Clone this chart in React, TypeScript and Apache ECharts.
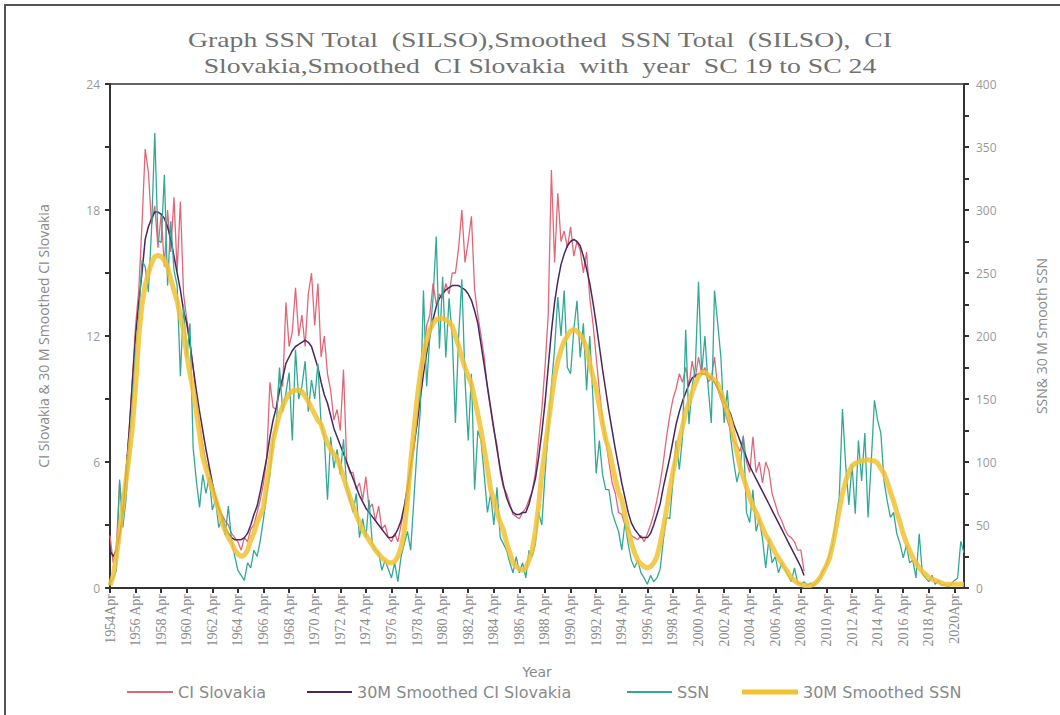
import React, { useEffect, useRef } from "react";
import * as echarts from "echarts";

// Quarterly samples starting April 1954: each row is one year, [Apr, Jul, Oct, Jan of next year].
const firstYear = 1954;
const quarterNames = ["Apr", "Jul", "Oct", "Jan"];

// Monthly total sunspot number (SILSO), right axis
const ssnTotal: number[] = [
  3, 8, 14, 86, // 1954
  48, 70, 110, 150,
  190, 215, 260, 255,
  235, 285, 361, 276,
  274, 328, 240, 291,
  252, 240, 168, 225,
  183, 210, 111, 85, // 1960
  64, 90, 75, 88,
  62, 70, 48, 55,
  42, 65, 38, 25,
  14, 10, 6, 20,
  16, 30, 25, 38,
  55, 75, 90, 120,
  130, 175, 140, 155,
  171, 117, 189, 150,
  160, 180, 140, 165,
  150, 178, 130, 120, // 1970
  70, 120, 95, 110,
  90, 118, 80, 70,
  60, 75, 40, 55,
  40, 70, 35, 30,
  28, 14, 22, 15,
  8, 20, 5, 25,
  35, 45, 30, 70,
  110, 140, 236, 160,
  200, 230, 279, 190,
  247, 183, 230, 200, // 1980
  131, 200, 245, 165,
  117, 170, 78, 125,
  117, 90, 60, 75,
  50, 80, 40, 35,
  30, 20, 12, 25,
  12, 20, 8, 30,
  25, 35, 60, 50,
  90, 125, 160, 190,
  231, 200, 236, 175,
  170, 205, 228, 183, // 1990
  210, 157, 200, 150,
  91, 117, 90, 78,
  78, 60, 52, 45,
  30, 52, 35, 22,
  16, 22, 12, 8,
  3, 10, 5, 8,
  15, 38, 56, 55,
  85, 117, 94, 120,
  205, 130, 160, 175,
  243, 171, 200, 160, // 2000
  131, 236, 210, 183,
  131, 157, 120, 100,
  84, 95, 121, 60,
  52, 78, 45, 55,
  39, 16, 39, 20,
  25, 12, 20, 15,
  10, 5, 16, 4,
  3, 5, 2, 4,
  2, 5, 8, 14,
  18, 27, 35, 56, // 2010
  72, 142, 98, 66,
  98, 59, 117, 85,
  123, 56, 100, 149,
  133, 123, 85, 69,
  56, 60, 43, 35,
  24, 34, 20, 22,
  8, 43, 11, 8,
  5, 10, 3, 6,
  2, 3, 1, 3,
  6, 8, 37, 28, // 2020
];

// 30-month smoothed sunspot number, right axis
const smoothedSsn: number[] = [
  2, 10, 25, 45, // 1954
  65, 85, 105, 128,
  160, 200, 225, 240,
  250, 258, 263, 264,
  263, 260, 255, 245,
  236, 228, 215, 205,
  185, 170, 157, 140, // 1960
  122, 104, 95, 86,
  78, 70, 62, 52,
  46, 40, 36, 30,
  27, 25, 26, 30,
  38, 44, 52, 58,
  64, 82, 100, 117,
  128, 138, 144, 150,
  154, 156, 157, 157,
  156, 152, 148, 143,
  138, 133, 130, 122, // 1970
  115, 110, 106, 103,
  96, 88, 80, 72,
  65, 58, 52, 46,
  42, 38, 34, 30,
  27, 24, 22, 20,
  20, 21, 25, 32,
  45, 70, 100, 125,
  150, 170, 185, 197,
  205, 210, 213, 214,
  214, 213, 211, 208, // 1980
  200, 192, 183, 175,
  168, 162, 150, 138,
  125, 110, 95, 78,
  70, 60, 52, 46,
  36, 28, 20, 17,
  15, 14, 16, 22,
  30, 45, 65, 91,
  110, 130, 150, 168,
  180, 189, 196, 200,
  204, 205, 204, 201, // 1990
  197, 190, 178, 168,
  158, 144, 130, 118,
  110, 98, 86, 76,
  70, 58, 46, 36,
  28, 22, 19, 17,
  16, 17, 20, 25,
  35, 48, 62, 78,
  92, 104, 118, 128,
  140, 147, 155, 162,
  168, 171, 171, 169, // 2000
  167, 165, 162, 155,
  148, 140, 132, 120,
  108, 96, 88, 80,
  72, 65, 60, 54,
  48, 42, 38, 33,
  28, 24, 20, 16,
  12, 8, 6, 4,
  3, 2, 2, 2,
  3, 5, 8, 13,
  18, 24, 35, 48, // 2010
  62, 75, 85, 92,
  97, 99, 100, 101,
  101, 102, 101, 101,
  99, 95, 91, 84,
  76, 69, 60, 52,
  43, 36, 30, 24,
  20, 16, 13, 11,
  8, 7, 6, 5,
  4, 3, 3, 3,
  3, 3, 3, 3, // 2020
];

// Coronal index, Slovakia, left axis
const ciSlovakia: (number | null)[] = [
  2.5, 1.2, 2.0, 5.0, // 1954
  3.5, 5.5, 7.5, 10.0,
  12.5, 14.2, 17.3, 20.9,
  19.8, 17.3, 18.2, 16.2,
  17.8, 15.3, 18.0, 16.0,
  18.6, 15.1, 18.4, 14.0,
  12.8, 11.8, 10.5, 9.0, // 1960
  7.8, 6.8, 6.0, 5.6,
  4.8, 4.4, 3.8, 3.5,
  3.2, 3.0, 2.6, 2.4,
  2.2, 1.8, 2.4, 2.2,
  2.8, 3.0, 3.6, 4.2,
  5.0, 6.2, 9.8, 8.6,
  8.5, 10.0, 9.6, 13.6,
  11.5, 12.2, 14.3, 12.0,
  13.0, 11.5, 14.0, 15.0,
  12.5, 14.5, 11.0, 12.0, // 1970
  10.2, 9.4, 8.0, 8.5,
  7.5, 10.4, 6.0, 5.5,
  5.5, 4.7, 5.0, 4.2,
  5.3, 3.8, 4.0, 3.2,
  3.9, 2.8, 3.0, 2.4,
  2.2, 2.6, 2.2, 3.0,
  3.8, 4.2, 5.5, 6.6,
  8.0, 9.5, 11.0, 12.5,
  13.0, 14.5, 13.5, 14.0,
  13.8, 14.5, 14.0, 15.0, // 1980
  15.0, 16.2, 18.0, 15.5,
  16.5, 17.7, 14.2, 13.0,
  12.0, 11.0, 9.5, 8.5,
  7.5, 6.8, 5.5, 4.8,
  4.5, 4.0, 3.5, 3.4,
  3.3, 3.6, 3.8, 4.2,
  4.6, 5.5, 7.0, 8.5,
  10.5, 13.0, 19.9, 15.5,
  18.8, 16.5, 17.0, 16.2,
  17.2, 15.8, 16.5, 16.1, // 1990
  15.0, 16.0, 13.8, 12.6,
  11.0, 9.4, 8.0, 7.0,
  6.0, 5.0, 4.5, 3.6,
  3.5, 3.0, 2.8, 2.5,
  2.4, 2.3, 2.5, 2.2,
  2.6, 3.0, 3.5, 4.2,
  5.0, 6.0, 7.2, 8.2,
  9.0, 9.5, 10.2, 9.8,
  10.5, 9.6, 10.8, 10.0,
  11.0, 10.2, 10.5, 9.8, // 2000
  10.0, 11.0, 9.5, 9.0,
  8.6, 8.0, 7.5, 7.0,
  6.8, 6.5, 7.2, 6.0,
  5.5, 7.2, 5.5, 6.0,
  5.0, 6.0, 5.6, 4.5,
  4.0, 3.5, 3.2, 2.8,
  2.5, 2.4, 2.2, 1.8,
  1.8, 0.8, // 2008
];

// 30-month smoothed coronal index, left axis
const smoothedCi: (number | null)[] = [
  1.8, 1.5, 1.8, 2.5, // 1954
  3.5, 5.5, 7.5, 9.8,
  12.0, 13.6, 15.0, 16.6,
  17.2, 17.6, 17.9, 17.9,
  17.8, 17.6, 17.2, 16.6,
  15.8, 15.0, 14.2, 13.2,
  12.6, 11.6, 10.5, 9.4, // 1960
  8.4, 7.5, 6.6, 5.8,
  5.0, 4.3, 3.8, 3.4,
  2.9, 2.6, 2.4, 2.3,
  2.3, 2.3, 2.4, 2.6,
  3.0, 3.5, 3.9, 4.6,
  5.4, 6.2, 7.2, 8.0,
  8.6, 9.4, 10.0, 10.7,
  11.0, 11.3, 11.5, 11.6,
  11.7, 11.8, 11.7, 11.5,
  11.0, 10.5, 9.8, 9.2, // 1970
  8.8, 8.2, 7.6, 7.2,
  6.8, 6.4, 6.0, 5.6,
  5.2, 4.8, 4.4, 4.1,
  3.8, 3.6, 3.4, 3.2,
  3.0, 2.8, 2.6, 2.4,
  2.4, 2.5, 2.8, 3.2,
  3.9, 4.8, 5.8, 6.8,
  7.8, 9.0, 10.2, 11.2,
  12.0, 12.8, 13.4, 13.8,
  14.0, 14.2, 14.3, 14.4, // 1980
  14.4, 14.4, 14.3, 14.2,
  14.0, 13.7, 13.2, 12.6,
  11.6, 10.6, 9.6, 8.6,
  7.6, 6.6, 5.7, 4.9,
  4.3, 3.9, 3.6, 3.5,
  3.5, 3.6, 3.6, 4.0,
  4.6, 5.2, 6.2, 7.4,
  8.8, 10.5, 12.2, 13.6,
  14.6, 15.4, 15.9, 16.3,
  16.5, 16.6, 16.5, 16.3, // 1990
  15.8, 15.2, 14.5, 13.6,
  12.6, 11.5, 10.4, 9.4,
  8.4, 7.5, 6.6, 5.8,
  5.0, 4.3, 3.6, 3.1,
  2.8, 2.6, 2.4, 2.4,
  2.4, 2.6, 3.0, 3.5,
  4.0, 4.8, 5.5, 6.2,
  7.0, 7.8, 8.4, 8.9,
  9.3, 9.7, 10.0, 10.1,
  10.2, 10.2, 10.2, 10.1, // 2000
  10.0, 9.8, 9.5, 9.2,
  8.9, 8.6, 8.3, 7.8,
  7.4, 7.0, 6.6, 6.2,
  5.8, 5.5, 5.2, 4.9,
  4.6, 4.3, 4.0, 3.7,
  3.4, 3.1, 2.8, 2.5,
  2.2, 1.9, 1.6, 1.3,
  1.0, 0.6, // 2008
];

// Labelled ticks on the time axis, one every two years
const tickLabels: string[] = [
  "1954Apr", "1956 Apr", "1958 Apr", "1960 Apr", "1962 Apr", "1964 Apr",
  "1966 Apr", "1968 Apr", "1970 Apr", "1972 Apr", "1974 Apr", "1976 Apr",
  "1978 Apr", "1980 Apr", "1982 Apr", "1984 Apr", "1986 Apr", "1988 Apr",
  "1990 Apr", "1992 Apr", "1994 Apr", "1996 Apr", "1998 Apr", "2000 Apr",
  "2002 Apr", "2004 Apr", "2006 Apr", "2008 Apr", "2010 Apr", "2012 Apr",
  "2014 Apr", "2016 Apr", "2018 Apr", "2020Apr",
];

const quarters: string[] = [];
for (let i = 0; i < ssnTotal.length; i++) {
  const year = firstYear + Math.floor(i / 4) + (i % 4 === 3 ? 1 : 0);
  quarters.push(`${year} ${quarterNames[i % 4]}`);
}

const titleLines = [
  "Graph SSN Total  (SILSO),Smoothed  SSN Total  (SILSO),  CI",
  "Slovakia,Smoothed  CI Slovakia  with  year  SC 19 to SC 24",
];

const colors = {
  ci: "#e0677a",
  ciSmooth: "#47285f",
  ssn: "#33a897",
  ssnSmooth: "#f2c233",
};

const legendFont = { fontFamily: "DejaVu Sans", fontSize: 16, color: "#8a8a8a" };
const tickFont = { fontFamily: "Open Sans", fontSize: 12, color: "#9a9a9a" };
const axisDark = { color: "#333", width: 2 };

export default function App() {
  const ref = useRef<HTMLDivElement>(null);

  useEffect(() => {
    if (!ref.current) return;
    const chart = echarts.init(ref.current, null, { renderer: "svg" });

    const legendItem = (name: string, left: number, width: number, height: number) => ({
      data: [{ name, icon: "rect" }],
      left,
      top: 679,
      itemWidth: width,
      itemHeight: height,
      textStyle: legendFont,
      selectedMode: false,
    });

    chart.setOption({
      animation: false,
      backgroundColor: "#ffffff",
      grid: {
        left: 110,
        right: 96,
        top: 84,
        bottom: 127,
        show: true,
        borderColor: "#333",
        borderWidth: 1.5,
      },
      graphic: [
        {
          type: "polyline",
          shape: { points: [[5, 715], [5, 5], [1060, 5]] },
          style: { stroke: "#555", lineWidth: 2, fill: "none" },
          silent: true,
        },
        ...titleLines.map((line, i) => ({
          type: "text",
          x: 540,
          y: 40 + i * 26,
          scaleX: 1.32,
          style: {
            text: line,
            font: "21px 'Liberation Serif'",
            fill: "#717171",
            textAlign: "center",
            textVerticalAlign: "middle",
          },
          silent: true,
        })),
      ],
      legend: [
        legendItem("CI Slovakia", 122, 46, 2),
        legendItem("30M Smoothed CI Slovakia", 302, 45, 2),
        legendItem("SSN", 622, 45, 2),
        legendItem("30M Smoothed SSN", 737, 56, 5),
      ],
      xAxis: {
        type: "category",
        data: quarters,
        boundaryGap: false,
        name: "Year",
        nameLocation: "middle",
        nameGap: 77,
        nameTextStyle: { ...legendFont, fontSize: 14 },
        axisLine: { lineStyle: axisDark },
        axisTick: { interval: 7, length: 5, lineStyle: axisDark },
        axisLabel: {
          interval: 7,
          rotate: 90,
          margin: 6,
          fontFamily: "Liberation Serif",
          fontSize: 14,
          color: "#8a8a8a",
          formatter: (_v: string, idx: number) => tickLabels[Math.round(idx / 8)] ?? "",
        },
        splitLine: { show: false },
      },
      yAxis: [
        {
          type: "value",
          position: "left",
          min: 0,
          max: 24,
          interval: 6,
          name: "CI Slovakia & 30 M Smoothed CI Slovakia",
          nameLocation: "middle",
          nameRotate: 90,
          nameGap: 60,
          nameTextStyle: { fontFamily: "Open Sans", fontSize: 14, color: "#8a8a8a" },
          axisLine: { show: true, lineStyle: axisDark },
          axisTick: { show: true, length: 5, lineStyle: axisDark },
          minorTick: { show: true, splitNumber: 2, length: 5, lineStyle: axisDark },
          splitLine: { show: false },
          axisLabel: { ...tickFont, margin: 10 },
        },
        {
          type: "value",
          position: "right",
          min: 0,
          max: 400,
          interval: 50,
          name: "SSN& 30 M Smooth SSN",
          nameLocation: "middle",
          nameRotate: 90,
          nameGap: 70,
          nameTextStyle: { fontFamily: "Open Sans", fontSize: 14, color: "#8a8a8a" },
          axisLine: { show: true, lineStyle: axisDark },
          axisTick: { show: true, length: 5, lineStyle: axisDark },
          minorTick: { show: true, splitNumber: 2, length: 5, lineStyle: axisDark },
          splitLine: { show: false },
          axisLabel: { ...tickFont, margin: 12 },
        },
      ],
      series: [
        {
          name: "CI Slovakia",
          type: "line",
          yAxisIndex: 0,
          data: ciSlovakia,
          showSymbol: false,
          color: colors.ci,
          lineStyle: { color: colors.ci, width: 1.3 },
        },
        {
          name: "30M Smoothed CI Slovakia",
          type: "line",
          yAxisIndex: 0,
          data: smoothedCi,
          showSymbol: false,
          color: colors.ciSmooth,
          lineStyle: { color: colors.ciSmooth, width: 1.5 },
        },
        {
          name: "SSN",
          type: "line",
          yAxisIndex: 1,
          data: ssnTotal,
          showSymbol: false,
          color: colors.ssn,
          lineStyle: { color: colors.ssn, width: 1.3 },
        },
        {
          name: "30M Smoothed SSN",
          type: "line",
          yAxisIndex: 1,
          data: smoothedSsn,
          showSymbol: false,
          color: colors.ssnSmooth,
          lineStyle: { color: colors.ssnSmooth, width: 5, opacity: 0.85 },
        },
      ],
    });

    return () => chart.dispose();
  }, []);

  return (
    <div
      ref={ref}
      style={{ position: "absolute", left: 0, top: 0, width: 1060, height: 715 }}
    />
  );
}
